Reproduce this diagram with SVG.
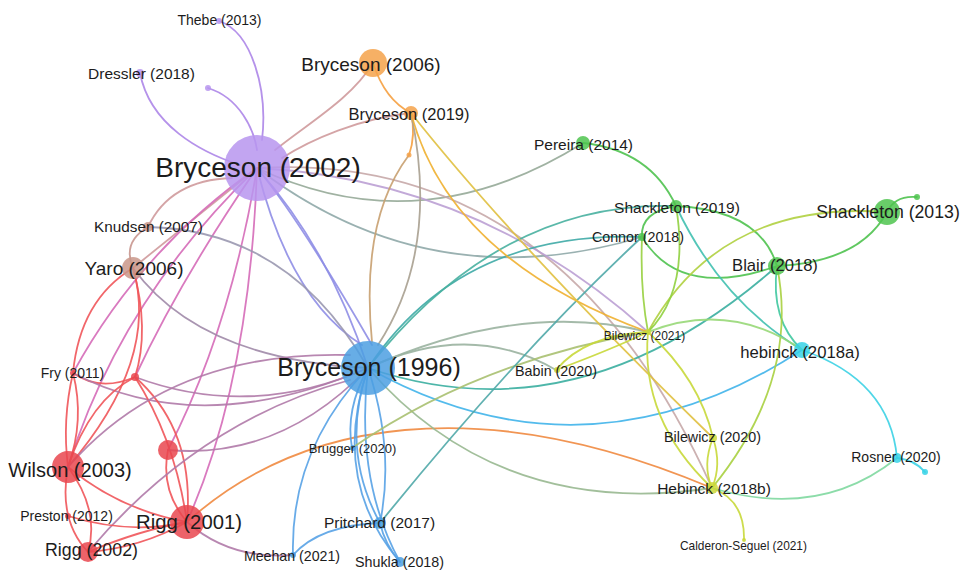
<svg xmlns="http://www.w3.org/2000/svg" width="963" height="570" viewBox="0 0 963 570">
<style>
.e{fill:none;stroke-width:1.8;stroke-linecap:round;opacity:0.9}
.pu{stroke:#ad86e8}.pk{stroke:#cf9a9c}.mg{stroke:#d56cb8}.re{stroke:#f0555a}.rp{stroke:#b07aa8}
.bl{stroke:#58a2e6}.pb{stroke:#8f8ee6}.or{stroke:#f5a040}.gr{stroke:#4fc24f}.yg{stroke:#c8d83a}
.cy{stroke:#3cd2e4}.te{stroke:#3eaaa6}.gg{stroke:#9ab3a0}
text{font-family:"Liberation Sans",Arial,sans-serif;fill:#1c1c1c;text-anchor:middle}
.n{fill-opacity:0.85}
.p{fill:#b795ee}.o{fill:#f4a24a}.b{fill:#c9978a}.r{fill:#e9474f}.u{fill:#4c9fe2}.g{fill:#4fc44f}.y{fill:#cdd83a}.c{fill:#36d2e6}
</style>
<g id="connectors">
<path class="e pu" d="M219,21 C252,32 268,90 262,140"/>
<path class="e pu" d="M140,73 C150,125 200,152 240,165"/>
<path class="e pu" d="M208,88 C240,98 254,130 257,150"/>
<path class="e pk" d="M373,63 C352,98 310,122 275,150"/>
<path class="e pk" d="M411,113 C360,118 310,140 282,158"/>
<path class="e" stroke="#96aa98" d="M257,168 Q420,245 583,143"/>
<path class="e" stroke="#c6a8a8" d="M257,168 Q560,150 712,488"/>
<path class="e" stroke="#8fa8a8" d="M257,168 Q430,300 642,237"/>
<path class="e" stroke="#bba0d4" d="M257,168 Q480,180 648,332"/>
<path class="e pb" d="M257,168 Q330,250 368,368"/>
<path class="e pb" d="M257,168 Q290,300 362,345"/>
<path class="e pb" d="M257,168 Q300,220 372,345"/>
<path class="e pk" d="M257,168 Q180,230 133,268"/>
<path class="e pk" d="M148,227 Q170,180 232,178"/>
<path class="e mg" d="M257,168 Q140,250 73,373"/>
<path class="e mg" d="M257,168 Q180,280 135,377"/>
<path class="e mg" d="M257,168 Q230,330 168,450"/>
<path class="e mg" d="M257,168 Q250,380 187,522"/>
<path class="e mg" d="M257,168 Q120,300 68,467"/>
<path class="e" stroke="#9a98b0" d="M148,227 Q290,230 368,368"/>
<path class="e" stroke="#a08aa8" d="M133,268 Q200,360 368,368"/>
<path class="e" stroke="#c8968e" d="M133,268 Q122,242 148,227"/>
<path class="e re" d="M133,268 Q80,300 73,373"/>
<path class="e re" d="M133,268 Q160,360 68,467"/>
<path class="e re" d="M133,268 Q150,330 135,377"/>
<path class="e re" d="M73,373 Q62,420 68,467"/>
<path class="e re" d="M73,373 Q85,420 68,467"/>
<path class="e re" d="M73,373 Q100,392 135,377"/>
<path class="e rp" d="M73,373 Q200,440 368,368"/>
<path class="e rp" d="M135,377 Q250,420 368,368"/>
<path class="e re" d="M135,377 Q195,430 187,522"/>
<path class="e re" d="M135,377 Q175,440 187,522"/>
<path class="e re" d="M135,377 Q90,400 68,467"/>
<path class="e rp" d="M168,450 Q280,460 368,368"/>
<path class="e re" d="M168,450 Q160,490 187,522"/>
<path class="e re" d="M68,467 Q120,510 187,522"/>
<path class="e re" d="M68,467 Q58,520 88,552"/>
<path class="e re" d="M68,467 Q100,510 88,552"/>
<path class="e rp" d="M68,467 Q170,350 350,355"/>
<path class="e rp" d="M88,552 Q200,420 350,380"/>
<path class="e re" d="M88,552 Q140,530 187,522"/>
<path class="e re" d="M88,552 Q140,548 187,522"/>
<path class="e re" d="M68,516 Q130,535 187,522"/>
<path class="e" stroke="#f08a40" d="M187,522 C300,420 480,390 712,488"/>
<path class="e rp" d="M187,522 Q230,560 293,555"/>
<path class="e bl" d="M368,368 Q345,410 352,448"/>
<path class="e bl" d="M368,368 Q395,450 380,523"/>
<path class="e bl" d="M368,368 Q340,450 380,523"/>
<path class="e bl" d="M368,368 Q290,450 293,555"/>
<path class="e bl" d="M368,368 Q330,480 400,562"/>
<path class="e bl" d="M368,368 Q355,480 400,562"/>
<path class="e bl" d="M380,523 Q320,525 293,555"/>
<path class="e bl" d="M380,523 Q385,545 400,562"/>
<path class="e" stroke="#40b4ea" d="M368,368 Q586,490 802,350"/>
<path class="e te" d="M368,368 Q460,230 642,237"/>
<path class="e" stroke="#48b0a0" d="M368,368 Q500,200 676,206"/>
<path class="e gg" d="M368,368 Q520,300 648,332"/>
<path class="e" stroke="#3aaea0" d="M368,368 Q580,440 777,266"/>
<path class="e" stroke="#98b890" d="M368,368 Q500,520 712,488"/>
<path class="e gg" d="M368,368 Q470,320 556,370"/>
<path class="e" stroke="#a8c070" d="M352,448 Q480,360 648,332"/>
<path class="e" stroke="#50a8a8" d="M380,523 Q520,350 642,237"/>
<path class="e or" d="M373,63 Q385,100 411,113"/>
<path class="e or" d="M411,113 Q416,135 409,155"/>
<path class="e" stroke="#c8a070" d="M409,155 Q360,220 372,342"/>
<path class="e" stroke="#a8a090" d="M411,113 Q440,250 378,345"/>
<path class="e" stroke="#f0b030" d="M411,113 Q450,260 648,332"/>
<path class="e" stroke="#e0c040" d="M411,113 Q520,250 713,438"/>
<path class="e gr" d="M583,143 Q650,150 676,206"/>
<path class="e gr" d="M676,206 Q760,210 777,266"/>
<path class="e gr" d="M676,206 Q640,212 642,237"/>
<path class="e gr" d="M642,237 Q680,300 777,266"/>
<path class="e gr" d="M887,212 Q860,262 777,266"/>
<path class="e gr" d="M887,212 Q895,195 917,197"/>
<path class="e" stroke="#b0d040" d="M887,212 Q720,200 648,332"/>
<path class="e" stroke="#40c8a0" d="M777,266 Q770,320 802,350"/>
<path class="e" stroke="#a8d040" d="M777,266 Q800,380 712,488"/>
<path class="e" stroke="#40c0b0" d="M676,206 Q720,300 802,350"/>
<path class="e" stroke="#90d040" d="M676,206 Q690,290 648,332"/>
<path class="e" stroke="#98d040" d="M642,237 Q640,290 648,332"/>
<path class="e yg" d="M556,370 Q585,335 648,332"/>
<path class="e yg" d="M556,370 Q610,350 648,332"/>
<path class="e yg" d="M648,332 Q640,420 712,488"/>
<path class="e yg" d="M648,332 Q700,380 713,438"/>
<path class="e" stroke="#98d878" d="M648,332 Q730,300 802,350"/>
<path class="e yg" d="M713,438 Q702,465 712,488"/>
<path class="e yg" d="M713,438 Q722,465 712,488"/>
<path class="e yg" d="M712,488 Q745,500 744,540"/>
<path class="e" stroke="#80d8a0" d="M712,488 Q820,520 897,458"/>
<path class="e cy" d="M802,350 Q890,380 897,458"/>
<path class="e cy" d="M897,458 Q915,460 925,472"/>
</g>
<g id="n-thebe"><circle class="n p" cx="219" cy="21" r="3"/><text x="219.5" y="25" font-size="14">Thebe (2013)</text></g>
<g id="n-dressler"><circle class="n p" cx="140" cy="73" r="4"/><text x="141.5" y="78.5" font-size="15.5">Dressler (2018)</text></g>
<g id="n-dot1"><circle class="n p" cx="208" cy="88" r="3"/></g>
<g id="n-bryceson2006"><circle class="n o" cx="373" cy="63" r="14"/><text x="371" y="70.5" font-size="19">Bryceson (2006)</text></g>
<g id="n-bryceson2019"><circle class="n o" cx="411" cy="113" r="7"/><text x="409" y="120" font-size="16.5">Bryceson (2019)</text></g>
<g id="n-dot2"><circle class="n o" cx="409" cy="155" r="2.5"/></g>
<g id="n-bryceson2002"><circle class="n p" cx="257" cy="168" r="33"/><text x="258" y="177" font-size="28">Bryceson (2002)</text></g>
<g id="n-knudsen"><circle class="n b" cx="148" cy="227" r="5"/><text x="148.5" y="231.5" font-size="15.3">Knudsen (2007)</text></g>
<g id="n-yaro"><circle class="n b" cx="133" cy="268" r="11"/><text x="134" y="274.5" font-size="19">Yaro (2006)</text></g>
<g id="n-pereira"><circle class="n g" cx="583" cy="143" r="7"/><text x="583.5" y="149.5" font-size="15.5">Pereira (2014)</text></g>
<g id="n-shackleton2019"><circle class="n g" cx="676" cy="206" r="6"/><text x="677" y="212.5" font-size="15.5">Shackleton (2019)</text></g>
<g id="n-connor"><circle class="n g" cx="642" cy="237" r="4"/><text x="638" y="242" font-size="14.3">Connor (2018)</text></g>
<g id="n-shackleton2013"><circle class="n g" cx="887" cy="212" r="13"/><text x="888" y="217.5" font-size="17.7">Shackleton (2013)</text></g>
<g id="n-dot3"><circle class="n g" cx="917" cy="197" r="3"/></g>
<g id="n-blair"><circle class="n g" cx="777" cy="266" r="9"/><text x="775" y="271" font-size="16.6">Blair (2018)</text></g>
<g id="n-bilewicz2021"><circle class="n y" cx="648" cy="332" r="3"/><text x="644.5" y="340" font-size="12">Bilewicz (2021)</text></g>
<g id="n-babin"><circle class="n y" cx="557" cy="370" r="3"/><text x="556" y="376" font-size="14.3">Babin (2020)</text></g>
<g id="n-hebinck2018a"><circle class="n c" cx="802" cy="350" r="8"/><text x="800" y="358" font-size="16.7">hebinck (2018a)</text></g>
<g id="n-bryceson1996"><circle class="n u" cx="368" cy="368" r="27"/><text x="369" y="376" font-size="25">Bryceson (1996)</text></g>
<g id="n-fry"><circle class="n r" cx="73" cy="373" r="3"/><text x="72.5" y="378" font-size="14">Fry (2011)</text></g>
<g id="n-dot4"><circle class="n r" cx="135" cy="377" r="4"/></g>
<g id="n-red"><circle class="n r" cx="168" cy="450" r="10"/></g>
<g id="n-brugger"><circle class="n u" cx="353" cy="448" r="3"/><text x="352.5" y="452.5" font-size="13">Brugger (2020)</text></g>
<g id="n-bilewicz2020"><circle class="n y" cx="713" cy="438" r="4"/><text x="712.5" y="442" font-size="14.3">Bilewicz (2020)</text></g>
<g id="n-wilson"><circle class="n r" cx="68" cy="467" r="16"/><text x="70" y="477" font-size="20">Wilson (2003)</text></g>
<g id="n-hebinck2018b"><circle class="n y" cx="712" cy="488" r="6"/><text x="714" y="493.5" font-size="15.5">Hebinck (2018b)</text></g>
<g id="n-rosner"><circle class="n c" cx="897" cy="458" r="5"/><text x="896" y="462" font-size="14">Rosner (2020)</text></g>
<g id="n-dot5"><circle class="n c" cx="925" cy="472" r="3"/></g>
<g id="n-preston"><circle class="n r" cx="68" cy="516" r="3"/><text x="66.5" y="521" font-size="14">Preston (2012)</text></g>
<g id="n-rigg2001"><circle class="n r" cx="187" cy="522" r="17"/><text x="189" y="529" font-size="20.3">Rigg (2001)</text></g>
<g id="n-pritchard"><circle class="n u" cx="380" cy="523" r="6"/><text x="379.5" y="527.5" font-size="15.5">Pritchard (2017)</text></g>
<g id="n-rigg2002"><circle class="n r" cx="88" cy="552" r="10"/><text x="91.5" y="556" font-size="17.8">Rigg (2002)</text></g>
<g id="n-meehan"><circle class="n u" cx="293" cy="555" r="3"/><text x="292" y="561" font-size="14.2">Meehan (2021)</text></g>
<g id="n-shukla"><circle class="n u" cx="400" cy="562" r="5"/><text x="399.5" y="567" font-size="14.3">Shukla (2018)</text></g>
<g id="n-calderon"><circle class="n y" cx="744" cy="540" r="2"/><text x="743.5" y="550" font-size="11.9">Calderon-Seguel (2021)</text></g>
</svg>
